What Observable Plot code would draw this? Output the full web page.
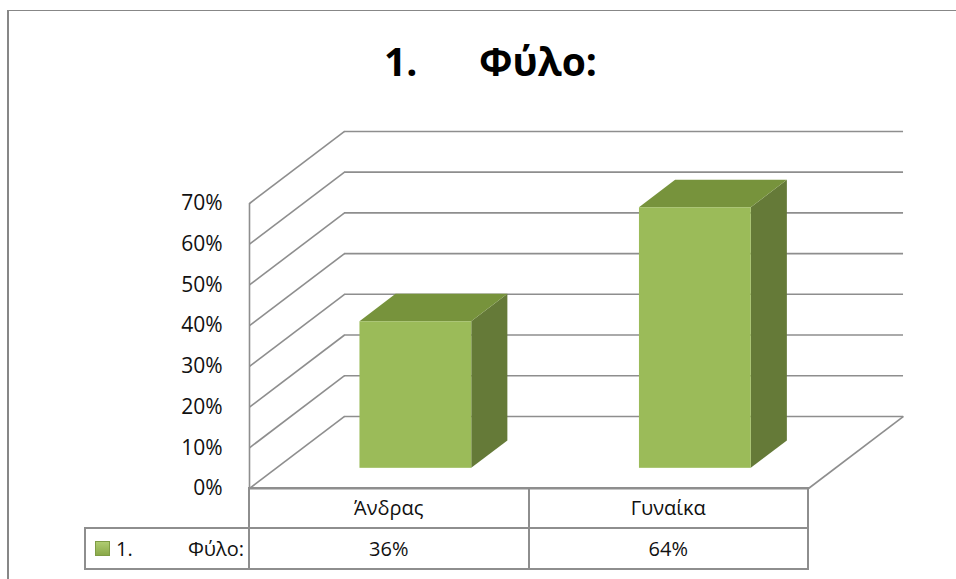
<!DOCTYPE html>
<html>
<head>
<meta charset="utf-8">
<script src="https://cdn.jsdelivr.net/npm/d3@7"></script>
<script src="https://cdn.jsdelivr.net/npm/@observablehq/plot@0.6"></script>
<style>
  html, body { margin: 0; padding: 0; background: #fff; }
  body { position: relative; width: 956px; height: 579px; overflow: hidden; font-family: "Open Sans", sans-serif; color: #000; }
  #frame { position: absolute; left: 7px; top: 10px; width: 980px; height: 600px; border-top: 1.5px solid #878787; border-left: 2px solid #878787; }
  #title { position: absolute; left: 384px; top: 41px; font: bold 39px/1 "Open Sans", sans-serif; white-space: nowrap; }
  #title .name { position: absolute; left: 95px; top: 0; }
  #chart { position: absolute; left: 0; top: 120px; }
  #datatable { position: absolute; border-collapse: collapse; table-layout: fixed; font: 20px/1 "Open Sans", sans-serif; color: #111; }
  #datatable td { border: 2px solid #8e8e8e; text-align: center; padding: 0; }
  #datatable td.blank { border: none; }
  #datatable tr.cats td { height: 38px; }
  #datatable tr.vals td { height: 39px; }
  .key { display: flex; align-items: center; height: 100%; padding: 0 4px 0 9px; }
  .swatch { width: 15px; height: 15px; background: linear-gradient(#b2cf74, #87a646); box-shadow: inset 0 0 0 1px #7f9c45; margin-right: 6px; }
  .key .num { flex: 0 0 auto; }
  .key .lab { margin-left: auto; }
</style>
</head>
<body>
<div id="frame"></div>
<div id="title"><span class="num">1.</span><span class="name">Φύλο:</span></div>
<div id="chart"></div>
<script>
// Survey answers: share of respondents by sex
const categories = ["Άνδρας", "Γυναίκα"];
const values = [0.36, 0.64];
const yTicks = [0, 0.1, 0.2, 0.3, 0.4, 0.5, 0.6, 0.7];
const seriesNumber = "1.";
const seriesName = "Φύλο:";

// Oblique 3D layout: depth of the floor expressed in x / y scale units
const DX = 0.34;
const DY = 0.177;
const BAR_W = 0.4;
const F1 = 0.28;   // depth of the bar front face
const F2 = 0.66;   // depth of the bar back face
const grid = "#8e8e8e";

const bars = categories.map((c, i) => ({c, i, v: values[i]}));

const topFace = bars.flatMap(b => [
  {c: b.c, y: b.v + F1 * DY, x1: b.i - BAR_W / 2 + F1 * DX, x2: b.i + BAR_W / 2 + F1 * DX},
  {c: b.c, y: b.v + F2 * DY, x1: b.i - BAR_W / 2 + F2 * DX, x2: b.i + BAR_W / 2 + F2 * DX}
]);
const sideFace = bars.flatMap(b => [
  {c: b.c, x: b.i + BAR_W / 2 + F1 * DX, y1: F1 * DY, y2: b.v + F1 * DY},
  {c: b.c, x: b.i + BAR_W / 2 + F2 * DX, y1: F2 * DY, y2: b.v + F2 * DY}
]);

const W = 956, H = 380;
const plot = Plot.plot({
  width: W,
  height: H,
  marginLeft: 249,
  marginRight: 148,
  marginTop: 83,
  marginBottom: H - 368,
  x: {domain: [-0.5, 1.5], axis: null},
  y: {domain: [0, 0.7], axis: null},
  style: {fontFamily: "Open Sans, sans-serif", fontSize: "21px", color: "#000", background: "transparent", overflow: "visible"},
  marks: [
    // back wall
    Plot.ruleY(yTicks, {y: t => t + DY, x1: () => -0.5 + DX, x2: () => 1.5 + DX, stroke: grid, strokeWidth: 1.6}),
    // side wall
    Plot.link(yTicks, {x1: () => -0.5, y1: t => t, x2: () => -0.5 + DX, y2: t => t + DY, stroke: grid, strokeWidth: 1.6}),
    Plot.ruleX([-0.5], {y1: () => 0, y2: () => 0.7, stroke: grid, strokeWidth: 1.6}),
    // floor
    Plot.link([0], {x1: () => 1.5, y1: () => 0, x2: () => 1.5 + DX, y2: () => DY, stroke: grid, strokeWidth: 1.6}),
    Plot.ruleY([0], {x1: () => -0.5, x2: () => 1.5, stroke: grid, strokeWidth: 2}),
    // columns
    Plot.areaY(sideFace, {x: "x", y1: "y1", y2: "y2", z: "c", fill: "#657a38"}),
    Plot.areaX(topFace, {y: "y", x1: "x1", x2: "x2", z: "c", fill: "#77933c"}),
    Plot.rect(bars, {
      x1: b => b.i - BAR_W / 2 + F1 * DX,
      x2: b => b.i + BAR_W / 2 + F1 * DX,
      y1: () => F1 * DY,
      y2: b => b.v + F1 * DY,
      fill: "#9bbb59"
    }),
    Plot.axisY(yTicks, {tickSize: 0, tickPadding: 27, tickFormat: d3.format(".0%"), fontSize: 21, fill: "#111"})
  ]
});
document.getElementById("chart").append(plot);

// data table under the plot, aligned on the x scale
const sx = plot.scale("x");
const edges = [-0.5, 0.5, 1.5].map(v => sx.apply(v));
const keyLeft = 85;
const table = document.createElement("table");
table.id = "datatable";
table.style.left = (keyLeft - 1) + "px";
table.style.top = (120 + 368 - 1) + "px";
table.style.width = (edges[2] - keyLeft + 2) + "px";
const colgroup = document.createElement("colgroup");
[edges[0] - keyLeft, edges[1] - edges[0], edges[2] - edges[1]].forEach(w => {
  const col = document.createElement("col");
  col.style.width = w + "px";
  colgroup.append(col);
});
table.append(colgroup);
const r1 = table.insertRow();
r1.className = "cats";
const blank = r1.insertCell();
blank.className = "blank";
categories.forEach(c => { r1.insertCell().textContent = c; });
const r2 = table.insertRow();
r2.className = "vals";
const key = r2.insertCell();
key.innerHTML = `<div class="key"><span class="swatch"></span><span class="num"></span><span class="lab"></span></div>`;
key.querySelector(".num").textContent = seriesNumber;
key.querySelector(".lab").textContent = seriesName;
values.forEach(v => { r2.insertCell().textContent = d3.format(".0%")(v); });
document.body.append(table);
</script>
</body>
</html>
